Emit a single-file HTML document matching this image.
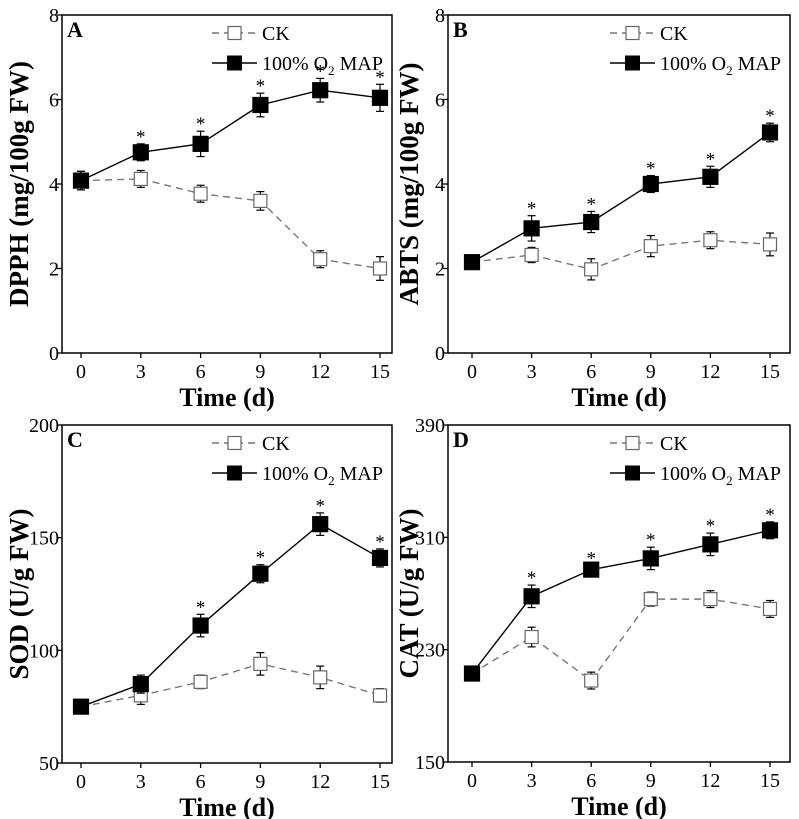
<!DOCTYPE html>
<html><head><meta charset="utf-8"><style>
body{margin:0;background:#fff;}
svg{display:block;font-family:"Liberation Serif",serif;}
</style></head><body>
<svg id="c" width="799" height="819" xmlns="http://www.w3.org/2000/svg"></svg>
<script>
const days=[0,3,6,9,12,15];
const aMap=[4.08,4.75,4.95,5.87,6.22,6.04], aMapErr=[0.22,0.2,0.3,0.28,0.28,0.32];
const aCk=[4.08,4.12,3.77,3.6,2.22,2.0], aCkErr=[0.22,0.2,0.2,0.22,0.2,0.28];
const bMap=[2.15,2.95,3.1,4.0,4.17,5.22], bMapErr=[0.15,0.3,0.25,0.2,0.25,0.22];
const bCk=[2.15,2.32,1.98,2.53,2.67,2.57], bCkErr=[0.15,0.18,0.25,0.25,0.2,0.27];
const cMap=[75,85,111,134,156,141], cMapErr=[3,4,5,4,5,4];
const cCk=[75,80,86,94,88,80], cCkErr=[3,4,3,5,5,3];
const dMap=[213,268,287,295,305,315], dMapErr=[5,8,3,8,8,6];
const dCk=[213,239,208,266,266,259], dCkErr=[5,7,6,5,6,6];
const aStars=[0,1,1,1,1,1], bStars=[0,1,1,1,1,1], cStars=[0,0,1,1,1,1], dStars=[0,1,1,1,1,1];
const aTicks=[0,2,4,6,8], bTicks=[0,2,4,6,8], cTicks=[50,100,150,200], dTicks=[150,230,310,390];
const NS="http://www.w3.org/2000/svg";
const svg=document.getElementById('c');
function mk(tag,attrs,parent,txt){const e=document.createElementNS(NS,tag);for(const k in attrs)e.setAttribute(k,attrs[k]);if(txt!==undefined)e.textContent=txt;(parent||svg).appendChild(e);return e;}
function panel(o){
  const g=mk('g',{});
  
  
  const L=o.left,T=o.top,R=o.right,B=o.bottom;
  const xs=d=>o.x0+(o.x15-o.x0)*d/15;
  const ys=v=>B-(v-o.ymin)/(o.ymax-o.ymin)*(B-T);
  const fr=mk('rect',{x:L,y:T,width:R-L,height:B-T,fill:'none',stroke:'#000','stroke-width':1.5},g);
  
  o.ticks.forEach(t=>{const y=ys(t);
    mk('line',{x1:L-5,x2:L,y1:y,y2:y,stroke:'#000','stroke-width':1.3},g);
    const tl=mk('text',{x:L-3,y:y+7,'text-anchor':'end','font-size':20},g,t);
    });
  days.forEach(d=>{const x=xs(d);
    mk('line',{x1:x,x2:x,y1:B,y2:B+5,stroke:'#000','stroke-width':1.3},g);
    const tl=mk('text',{x:x,y:B+25,'text-anchor':'middle','font-size':20},g,d);
    });
  const xt=mk('text',{x:(L+R)/2,y:B+53,'text-anchor':'middle','font-size':26,'font-weight':'bold'},g,'Time (d)');
  
  const cy=(T+B)/2, tx=L-o.titleOff;
  const yt=mk('text',{x:tx,y:cy,'text-anchor':'middle','font-size':27,'font-weight':'bold',transform:`rotate(-90 ${tx} ${cy})`},g,o.ytitle);
  
  const pl=mk('text',{x:L+5,y:T+22,'font-size':22,'font-weight':'bold'},g,o.letter);
  
  function series(vals,errs,filled,name,stars){
    const sg=mk('g',{},g);
    
    const pts=vals.map((v,i)=>[xs(days[i]),ys(v)]);
    const ln=mk('polyline',{points:pts.map(p=>p.join(',')).join(' '),fill:'none',stroke:filled?'#000':'#777','stroke-width':1.4,'stroke-dasharray':filled?'':'7,5'},sg);
    
    vals.forEach((v,i)=>{const [x,y]=pts[i];const e=errs[i];
      const y1=ys(v+e),y2=ys(v-e);
      mk('line',{x1:x,x2:x,y1:y1,y2:y2,stroke:'#000','stroke-width':1.2},sg);
      mk('line',{x1:x-4,x2:x+4,y1:y1,y2:y1,stroke:'#000','stroke-width':1.2},sg);
      mk('line',{x1:x-4,x2:x+4,y1:y2,y2:y2,stroke:'#000','stroke-width':1.2},sg);
      const s=filled?15:13;
      const m=mk('rect',{x:x-s/2,y:y-s/2,width:s,height:s,fill:filled?'#000':'#fff',stroke:filled?'#000':'#666','stroke-width':1.2},sg);
      
      if(stars&&stars[i]){const st=mk('text',{x:x,y:y1-1,'text-anchor':'middle','font-size':19},sg,'*');
        }
    });
  }
  series(o.ck,o.ckErr,false,'ck-series',null);
  series(o.map,o.mapErr,true,'map-series',o.stars);
  const lg=mk('g',{},g);
  const lx=R-180,ly1=T+18,ly2=T+48;
  const e1=mk('g',{},lg);
  mk('line',{x1:lx,x2:lx+45,y1:ly1,y2:ly1,stroke:'#777','stroke-width':1.4,'stroke-dasharray':'7,5'},e1);
  mk('rect',{x:lx+16,y:ly1-6.5,width:13,height:13,fill:'#fff',stroke:'#666','stroke-width':1.2},e1);
  mk('text',{x:lx+50,y:ly1+7,'font-size':20},e1,'CK');
  const e2=mk('g',{},lg);
  mk('line',{x1:lx,x2:lx+45,y1:ly2,y2:ly2,stroke:'#000','stroke-width':1.4},e2);
  mk('rect',{x:lx+15,y:ly2-7.5,width:15,height:15,fill:'#000'},e2);
  const t2=mk('text',{x:lx+50,y:ly2+7,'font-size':20},e2);
  t2.innerHTML='100% O<tspan font-size="13" dy="5">2</tspan><tspan dy="-5"> MAP</tspan>';
}
panel({letter:'A',left:62,top:15,right:392,bottom:353,x0:81,x15:380,ymin:0,ymax:8,ticks:aTicks,ytitle:'DPPH (mg/100g FW)',titleOff:34,map:aMap,mapErr:aMapErr,ck:aCk,ckErr:aCkErr,stars:aStars});
panel({letter:'B',left:448,top:15,right:790,bottom:353,x0:472,x15:770,ymin:0,ymax:8,ticks:bTicks,ytitle:'ABTS (mg/100g FW)',titleOff:30,map:bMap,mapErr:bMapErr,ck:bCk,ckErr:bCkErr,stars:bStars});
panel({letter:'C',left:62,top:425,right:392,bottom:763,x0:81,x15:380,ymin:50,ymax:200,ticks:cTicks,ytitle:'SOD (U/g FW)',titleOff:34,map:cMap,mapErr:cMapErr,ck:cCk,ckErr:cCkErr,stars:cStars});
panel({letter:'D',left:448,top:425,right:790,bottom:762,x0:472,x15:770,ymin:150,ymax:390,ticks:dTicks,ytitle:'CAT (U/g FW)',titleOff:30,map:dMap,mapErr:dMapErr,ck:dCk,ckErr:dCkErr,stars:dStars});
</script>
</body></html>
